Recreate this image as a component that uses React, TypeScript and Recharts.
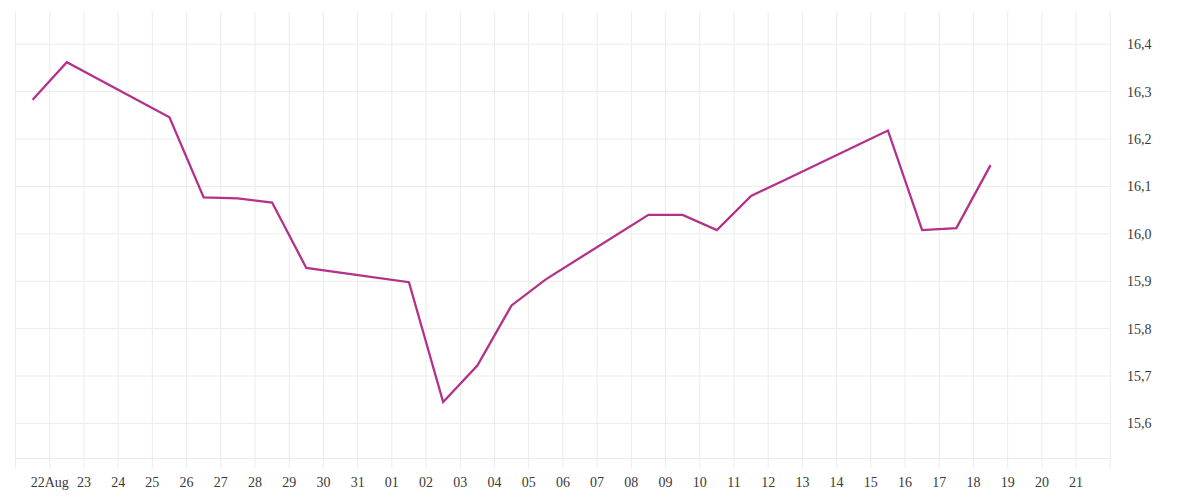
import React from "react";
import { LineChart, Line, XAxis, YAxis, CartesianGrid, ReferenceLine } from "recharts";

const START = Date.UTC(2025, 7, 21);
const DAY = 86400000;

const dates = [
  "2025-08-21", "2025-08-22", "2025-08-25", "2025-08-26", "2025-08-27", "2025-08-28", "2025-08-29",
  "2025-09-01", "2025-09-02", "2025-09-03", "2025-09-04", "2025-09-05",
  "2025-09-08", "2025-09-09", "2025-09-10", "2025-09-11", "2025-09-12",
  "2025-09-15", "2025-09-16", "2025-09-17", "2025-09-18",
];

const values = [
  16.283, 16.362, 16.246, 16.077, 16.075, 16.066, 15.928,
  15.898, 15.645, 15.722, 15.849, 15.904,
  16.04, 16.04, 16.008, 16.08, 16.114,
  16.218, 16.008, 16.012, 16.145,
];

const xTickLabels = [
  "", "22Aug", "23", "24", "25", "26", "27", "28", "29", "30", "31",
  "01", "02", "03", "04", "05", "06", "07", "08", "09", "10",
  "11", "12", "13", "14", "15", "16", "17", "18", "19", "20", "21", "",
];

const yTicks = [15.6, 15.7, 15.8, 15.9, 16.0, 16.1, 16.2, 16.3, 16.4];

const data = dates.map((d, i) => ({
  t: (Date.parse(d + "T12:00:00Z") - START) / DAY,
  v: values[i],
}));

const xTicks = xTickLabels.map((_, i) => i);

const GRID = "#ececec";
const TEXT = "#3a3a3a";
const FONT = "'Liberation Serif', serif";

export default function App() {
  return (
    <div style={{ width: 1184, height: 484 }}>
      <LineChart
        width={1184}
        height={484}
        data={data}
        margin={{ top: 4, right: 0, bottom: 0, left: 7.5 }}
      >
        <CartesianGrid stroke={GRID} strokeWidth={1} horizontal={false} />
        {yTicks.map((v) => (
          <ReferenceLine key={v} y={v} stroke={GRID} strokeWidth={1} ifOverflow="visible" />
        ))}
        <XAxis
          dataKey="t"
          type="number"
          domain={[0, 32]}
          ticks={xTicks}
          interval={0}
          tickFormatter={(v: number) => xTickLabels[v] ?? ""}
          height={33.5}
          tickSize={9.5}
          tickMargin={9}
          stroke={GRID}
          tickLine={{ stroke: GRID }}
          axisLine={{ stroke: GRID }}
          tick={{ fill: TEXT, fontSize: 14, fontFamily: FONT }}
        />
        <YAxis
          orientation="right"
          type="number"
          domain={[15.526, 16.468]}
          ticks={yTicks}
          interval={0}
          width={81.7}
          axisLine={false}
          tickLine={false}
          tickSize={6}
          tickMargin={10.7}
          tickFormatter={(v: number) => v.toFixed(1).replace(".", ",")}
          tick={{ fill: TEXT, fontSize: 14, fontFamily: FONT }}
        />
        <Line
          type="linear"
          dataKey="v"
          stroke="#b3318a"
          strokeWidth={2.3}
          dot={false}
          activeDot={false}
          isAnimationActive={false}
        />
      </LineChart>
    </div>
  );
}
